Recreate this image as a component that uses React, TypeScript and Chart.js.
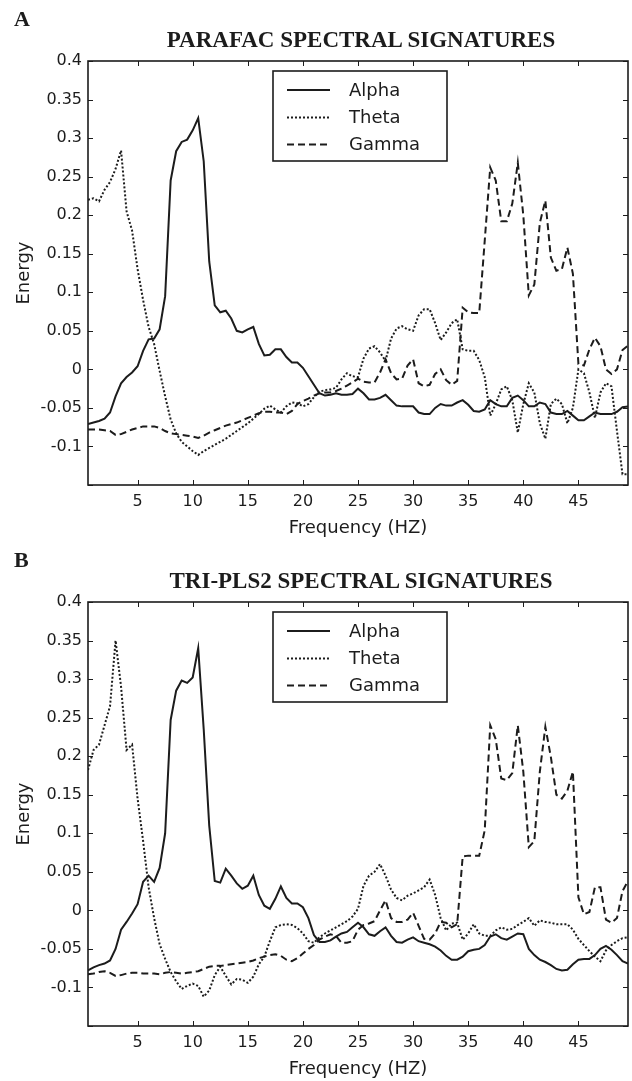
import React, { useEffect, useRef } from 'react';
import { Chart, registerables } from 'chart.js';

Chart.register(...registerables);

// ---------- data ----------
const FREQ = [
  0.5, 1, 1.5, 2, 2.5, 3, 3.5, 4, 4.5, 5,
  5.5, 6, 6.5, 7, 7.5, 8, 8.5, 9, 9.5, 10,
  10.5, 11, 11.5, 12, 12.5, 13, 13.5, 14, 14.5, 15,
  15.5, 16, 16.5, 17, 17.5, 18, 18.5, 19, 19.5, 20,
  20.5, 21, 21.5, 22, 22.5, 23, 23.5, 24, 24.5, 25,
  25.5, 26, 26.5, 27, 27.5, 28, 28.5, 29, 29.5, 30,
  30.5, 31, 31.5, 32, 32.5, 33, 33.5, 34, 34.5, 35,
  35.5, 36, 36.5, 37, 37.5, 38, 38.5, 39, 39.5, 40,
  40.5, 41, 41.5, 42, 42.5, 43, 43.5, 44, 44.5, 45,
  45.5, 46, 46.5, 47, 47.5, 48, 48.5, 49, 49.5,
];

const PARAFAC_ALPHA = [
  -0.071, -0.069, -0.067, -0.064, -0.056, -0.035, -0.018, -0.010, -0.004, 0.004,
  0.024, 0.039, 0.040, 0.052, 0.095, 0.245, 0.283, 0.295, 0.298, 0.310,
  0.326, 0.270, 0.140, 0.083, 0.074, 0.076, 0.066, 0.050, 0.048, 0.052,
  0.055, 0.033, 0.018, 0.019, 0.026, 0.026, 0.016, 0.009, 0.009, 0.002,
  -0.009, -0.020, -0.031, -0.034, -0.033, -0.031, -0.033, -0.033, -0.032, -0.025,
  -0.031, -0.039, -0.039, -0.037, -0.033, -0.040, -0.047, -0.048, -0.048, -0.048,
  -0.056, -0.058, -0.058, -0.050, -0.045, -0.047, -0.047, -0.043, -0.040, -0.046,
  -0.054, -0.055, -0.052, -0.040, -0.045, -0.048, -0.048, -0.037, -0.034, -0.040,
  -0.048, -0.048, -0.043, -0.045, -0.056, -0.058, -0.058, -0.054, -0.060, -0.066,
  -0.066, -0.061, -0.056, -0.058, -0.058, -0.058, -0.055, -0.049, -0.048,
];

const PARAFAC_THETA = [
  0.220, 0.222, 0.218, 0.233, 0.243, 0.260, 0.284, 0.205, 0.180, 0.130,
  0.090, 0.055, 0.033, -0.002, -0.035, -0.065, -0.083, -0.094, -0.100, -0.106,
  -0.111, -0.106, -0.102, -0.098, -0.094, -0.090, -0.085, -0.080, -0.075, -0.070,
  -0.064, -0.058, -0.051, -0.047, -0.052, -0.056, -0.048, -0.043, -0.044, -0.048,
  -0.045, -0.036, -0.029, -0.027, -0.026, -0.024, -0.013, -0.005, -0.009, -0.010,
  0.014, 0.027, 0.030, 0.022, 0.011, 0.040, 0.053, 0.056, 0.052, 0.050,
  0.070, 0.078, 0.078, 0.060, 0.038, 0.048, 0.060, 0.065, 0.026, 0.024,
  0.024, 0.012, -0.010, -0.060, -0.045, -0.026, -0.022, -0.040, -0.082, -0.045,
  -0.018, -0.030, -0.070, -0.090, -0.045, -0.038, -0.045, -0.070, -0.050, 0.000,
  -0.005, -0.030, -0.063, -0.030, -0.018, -0.022, -0.080, -0.136, -0.136,
];

const PARAFAC_GAMMA = [
  -0.078, -0.078, -0.078, -0.079, -0.080, -0.085, -0.084, -0.081, -0.078, -0.076,
  -0.074, -0.074, -0.074, -0.076, -0.080, -0.083, -0.084, -0.085, -0.086, -0.087,
  -0.089, -0.086, -0.082, -0.079, -0.076, -0.073, -0.071, -0.069, -0.066, -0.063,
  -0.060, -0.057, -0.055, -0.055, -0.056, -0.056, -0.058, -0.054, -0.045, -0.041,
  -0.038, -0.034, -0.031, -0.030, -0.030, -0.028, -0.025, -0.021, -0.017, -0.012,
  -0.016, -0.017, -0.017, -0.004, 0.013, -0.005, -0.013, -0.012, 0.005, 0.013,
  -0.018, -0.022, -0.020, -0.006, 0.000, -0.014, -0.020, -0.015, 0.080, 0.074,
  0.073, 0.073, 0.167, 0.262, 0.245, 0.192, 0.192, 0.215, 0.268, 0.200,
  0.096, 0.110, 0.190, 0.219, 0.145, 0.128, 0.130, 0.158, 0.124, 0.007,
  0.005, 0.026, 0.041, 0.030, 0.000, -0.006, 0.000, 0.025, 0.031,
];

const TRIPLS_ALPHA = [
  -0.078, -0.074, -0.071, -0.069, -0.065, -0.050, -0.025, -0.015, -0.004, 0.008,
  0.037, 0.045, 0.037, 0.055, 0.100, 0.247, 0.285, 0.298, 0.295, 0.302,
  0.340, 0.235, 0.110, 0.038, 0.036, 0.054, 0.045, 0.035, 0.028, 0.032,
  0.045, 0.020, 0.006, 0.002, 0.015, 0.031, 0.016, 0.009, 0.009, 0.004,
  -0.010, -0.032, -0.041, -0.041, -0.039, -0.034, -0.030, -0.028, -0.022, -0.016,
  -0.022, -0.031, -0.033, -0.027, -0.022, -0.033, -0.041, -0.042, -0.038, -0.035,
  -0.040, -0.042, -0.044, -0.047, -0.052, -0.059, -0.064, -0.064, -0.060, -0.053,
  -0.051, -0.050, -0.045, -0.034, -0.031, -0.036, -0.038, -0.034, -0.030, -0.031,
  -0.050, -0.058, -0.064, -0.067, -0.071, -0.076, -0.078, -0.077, -0.070, -0.064,
  -0.063, -0.063, -0.058, -0.050, -0.046, -0.051, -0.058, -0.066, -0.069,
];

const TRIPLS_THETA = [
  0.182, 0.208, 0.215, 0.240, 0.265, 0.350, 0.290, 0.208, 0.215, 0.145,
  0.090, 0.030, -0.010, -0.044, -0.063, -0.080, -0.092, -0.102, -0.098, -0.095,
  -0.098, -0.112, -0.104, -0.084, -0.073, -0.085, -0.096, -0.089, -0.090, -0.094,
  -0.086, -0.070, -0.060, -0.040, -0.022, -0.019, -0.018, -0.019, -0.023, -0.030,
  -0.040, -0.042, -0.035, -0.030, -0.026, -0.022, -0.018, -0.014, -0.008, 0.002,
  0.032, 0.045, 0.050, 0.060, 0.045, 0.027, 0.016, 0.013, 0.019, 0.022,
  0.026, 0.030, 0.040, 0.020, -0.010, -0.026, -0.017, -0.016, -0.038, -0.030,
  -0.018, -0.030, -0.033, -0.033, -0.026, -0.022, -0.025, -0.024, -0.019, -0.015,
  -0.010, -0.020, -0.013, -0.015, -0.016, -0.018, -0.018, -0.018, -0.025, -0.037,
  -0.045, -0.053, -0.060, -0.066, -0.052, -0.045, -0.040, -0.036, -0.035,
];

const TRIPLS_GAMMA = [
  -0.083, -0.082, -0.080, -0.079, -0.081, -0.085, -0.084, -0.082, -0.081, -0.081,
  -0.082, -0.082, -0.082, -0.083, -0.081, -0.080, -0.081, -0.082, -0.081, -0.080,
  -0.079, -0.076, -0.073, -0.072, -0.072, -0.071, -0.070, -0.069, -0.068, -0.067,
  -0.065, -0.062, -0.060, -0.058, -0.057, -0.059, -0.064, -0.066, -0.062, -0.056,
  -0.050, -0.045, -0.038, -0.034, -0.031, -0.033, -0.042, -0.042, -0.040, -0.025,
  -0.019, -0.017, -0.014, 0.000, 0.013, -0.010, -0.015, -0.015, -0.012, -0.003,
  -0.020, -0.037, -0.038, -0.030, -0.015, -0.016, -0.022, -0.018, 0.070, 0.071,
  0.071, 0.071, 0.104, 0.240, 0.222, 0.171, 0.169, 0.178, 0.240, 0.180,
  0.082, 0.090, 0.180, 0.238, 0.199, 0.150, 0.145, 0.155, 0.180, 0.017,
  -0.005, -0.002, 0.030, 0.030, -0.012, -0.016, -0.010, 0.025, 0.038,
];

const SERIES_NAMES = ['Alpha', 'Theta', 'Gamma'];
const X_TICKS = [5, 10, 15, 20, 25, 30, 35, 40, 45];
const Y_TICKS = [-0.15, -0.1, -0.05, 0, 0.05, 0.1, 0.15, 0.2, 0.25, 0.3, 0.35, 0.4];
const X_LABEL = 'Frequency (HZ)';
const Y_LABEL = 'Energy';

// ---------- styling ----------
const INK = '#1c1c1c';
const SANS = '"DejaVu Sans", sans-serif';
const SERIF = '"Liberation Serif", "Times New Roman", serif';
const DASHES = [[], [2, 2], [7, 4]];

const framePlugin = {
  id: 'frame',
  afterDraw(chart: any) {
    const { ctx, chartArea: a, scales } = chart;
    const xs = scales.x;
    const ys = scales.y;
    ctx.save();
    ctx.strokeStyle = INK;
    ctx.lineWidth = 1;
    ctx.setLineDash([]);
    ctx.beginPath();
    X_TICKS.forEach((v) => {
      const px = Math.round(xs.getPixelForValue(v)) + 0.5;
      ctx.moveTo(px, a.bottom);
      ctx.lineTo(px, a.bottom - 5);
      ctx.moveTo(px, a.top);
      ctx.lineTo(px, a.top + 5);
    });
    Y_TICKS.forEach((v) => {
      const py = Math.round(ys.getPixelForValue(v)) + 0.5;
      ctx.moveTo(a.left, py);
      ctx.lineTo(a.left + 5, py);
      ctx.moveTo(a.right, py);
      ctx.lineTo(a.right - 5, py);
    });
    ctx.stroke();
    ctx.lineWidth = 1.6;
    ctx.strokeRect(a.left, a.top, a.right - a.left, a.bottom - a.top);

    // legend box
    const bx = a.left + 185;
    const by = a.top + 10;
    const bw = 174;
    const bh = 90;
    ctx.fillStyle = '#fff';
    ctx.fillRect(bx, by, bw, bh);
    ctx.lineWidth = 1.6;
    ctx.strokeRect(bx, by, bw, bh);
    const rows = [19, 46.5, 73.5];
    chart.data.datasets.forEach((ds: any, i: number) => {
      const ry = by + rows[i];
      ctx.setLineDash(ds.borderDash || []);
      ctx.lineWidth = 2;
      ctx.beginPath();
      ctx.moveTo(bx + 14, ry);
      ctx.lineTo(bx + 57, ry);
      ctx.stroke();
      ctx.setLineDash([]);
      ctx.fillStyle = INK;
      ctx.font = `18px ${SANS}`;
      ctx.textBaseline = 'middle';
      ctx.textAlign = 'left';
      ctx.fillText(ds.label, bx + 76, ry + 1);
    });
    ctx.restore();
  },
};

function fmt(v: number) {
  return String(Number(v.toFixed(2)));
}

type PanelProps = {
  top: number;
  letter: string;
  title: string;
  series: number[][];
};

function Panel({ top, letter, title, series }: PanelProps) {
  const ref = useRef<HTMLCanvasElement>(null);

  useEffect(() => {
    const canvas = ref.current;
    if (!canvas) return;
    const chart = new Chart(canvas, {
      type: 'line',
      data: {
        datasets: series.map((vals, i) => ({
          label: SERIES_NAMES[i],
          data: FREQ.map((f, j) => ({ x: f, y: vals[j] })),
          borderColor: INK,
          borderWidth: 2,
          borderDash: DASHES[i],
          pointRadius: 0,
          tension: 0,
          fill: false,
        })),
      },
      options: {
        responsive: false,
        animation: false,
        devicePixelRatio: 1,
        layout: { padding: { top: 61, right: 4, bottom: 0, left: 0 } },
        plugins: {
          legend: { display: false },
          tooltip: { enabled: false },
          title: { display: false },
        },
        scales: {
          x: {
            type: 'linear',
            min: 0.5,
            max: 49.5,
            grid: { display: false, drawTicks: false },
            border: { display: false },
            afterBuildTicks: (s: any) => {
              s.ticks = X_TICKS.map((v) => ({ value: v }));
            },
            afterFit: (s: any) => {
              s.height = 55;
            },
            ticks: {
              color: INK,
              font: { family: SANS, size: 16 },
              padding: 7,
              maxRotation: 0,
              autoSkip: false,
              callback: (v: any) => fmt(Number(v)),
            },
            title: {
              display: true,
              text: X_LABEL,
              color: INK,
              font: { family: SANS, size: 18 },
              padding: { top: 0, bottom: 1 },
            },
          },
          y: {
            type: 'linear',
            min: -0.15,
            max: 0.4,
            grid: { display: false, drawTicks: false },
            border: { display: false },
            afterBuildTicks: (s: any) => {
              s.ticks = Y_TICKS.map((v) => ({ value: v }));
            },
            afterFit: (s: any) => {
              s.width = 88;
            },
            ticks: {
              color: INK,
              font: { family: SANS, size: 16 },
              padding: 6,
              autoSkip: false,
              callback: (v: any) => (Number(v) < -0.149 ? '' : fmt(Number(v))),
            },
            title: {
              display: true,
              text: Y_LABEL,
              color: INK,
              font: { family: SANS, size: 18 },
              padding: { top: 14, bottom: 0 },
            },
          },
        },
      },
      plugins: [framePlugin],
    } as any);
    return () => chart.destroy();
  }, []);

  return (
    <div style={{ position: 'absolute', left: 0, top, width: 632, height: 540 }}>
      <canvas
        ref={ref}
        width={632}
        height={540}
        style={{ position: 'absolute', left: 0, top: 0, width: 632, height: 540 }}
      />
      <div
        style={{
          position: 'absolute',
          left: 14,
          top: 8,
          font: `bold 22px ${SERIF}`,
          lineHeight: '22px',
          color: INK,
        }}
      >
        {letter}
      </div>
      <div
        style={{
          position: 'absolute',
          left: 91,
          top: 28,
          width: 540,
          textAlign: 'center',
          font: `bold 23px ${SERIF}`,
          lineHeight: '23px',
          color: INK,
          whiteSpace: 'nowrap',
        }}
      >
        {title}
      </div>
    </div>
  );
}

export default function App() {
  useEffect(() => {
    document.body.style.margin = '0';
  }, []);
  return (
    <div style={{ position: 'relative', width: 632, height: 1081, background: '#fff', overflow: 'hidden' }}>
      <Panel
        top={0}
        letter="A"
        title="PARAFAC SPECTRAL SIGNATURES"
        series={[PARAFAC_ALPHA, PARAFAC_THETA, PARAFAC_GAMMA]}
      />
      <Panel
        top={541}
        letter="B"
        title="TRI-PLS2 SPECTRAL SIGNATURES"
        series={[TRIPLS_ALPHA, TRIPLS_THETA, TRIPLS_GAMMA]}
      />
    </div>
  );
}
